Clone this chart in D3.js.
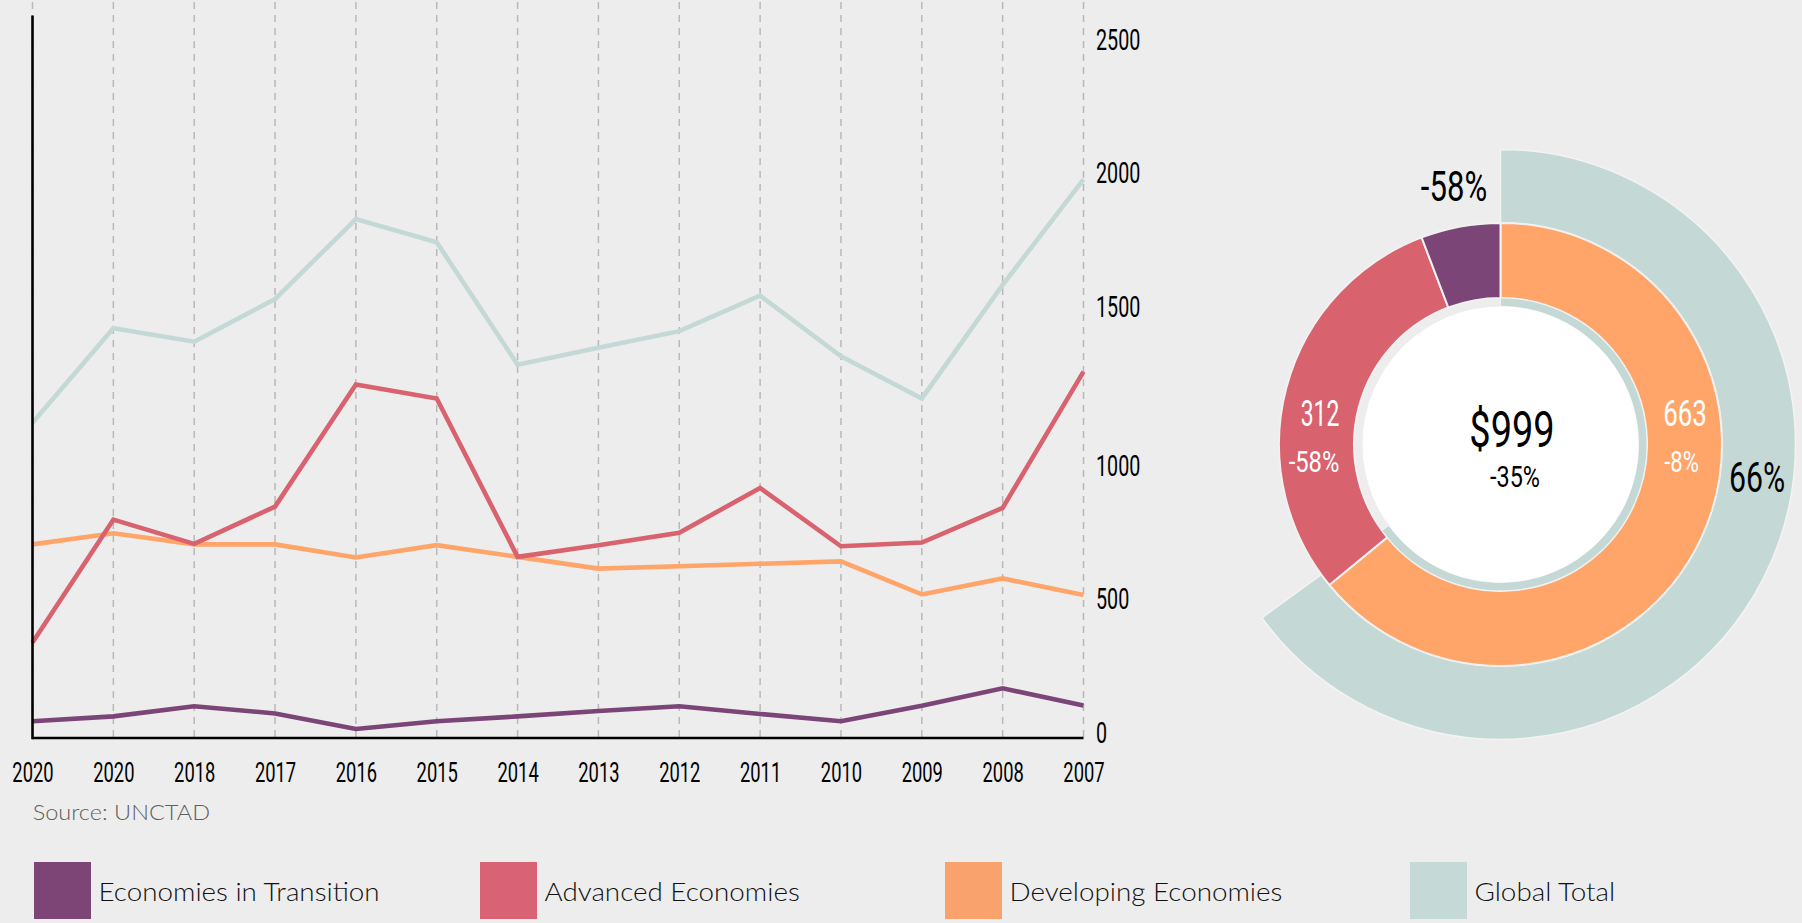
<!DOCTYPE html>
<html>
<head>
<meta charset="utf-8">
<script src="https://cdn.jsdelivr.net/npm/d3@7"></script>
<style>
  html, body { margin: 0; padding: 0; background: #ededed; }
  svg { display: block; }
</style>
</head>
<body>
<svg id="chart" width="1802" height="923"></svg>
<script>
// ---- data ----
const years = ["2020", "2020", "2018", "2017", "2016", "2015", "2014", "2013", "2012", "2011", "2010", "2009", "2008", "2007"];
const globalTotal = [1153, 1449, 1407, 1548, 1847, 1760, 1335, 1388, 1440, 1561, 1361, 1229, 1601, 1995];
const advanced    = [358, 819, 728, 868, 1273, 1229, 679, 723, 770, 938, 719, 733, 863, 1313];
const developing  = [726, 768, 726, 726, 677, 723, 679, 635, 644, 653, 662, 538, 598, 536];
const transition  = [63, 81, 119, 92, 34, 63, 81, 101, 119, 90, 63, 121, 186, 122];
const yTicks = [0, 500, 1000, 1500, 2000, 2500];

const seriesNames = ["Economies in Transition", "Advanced Economies", "Developing Economies", "Global Total"];

// latest-year breakdown shown in the ring
const ringNames   = ["Developing Economies", "Advanced Economies", "Economies in Transition"];
const ringValues  = [663, 312, 60];
const ringChanges = ["-8%", "-58%", "-58%"];
const totalValue = 999;
const totalChange = -35;      // percent change of the global total
const globalShareLabel = "66%";
const sourceNote = "Source: UNCTAD";

// ---- styles ----
const colors = {
  "Economies in Transition": "#7c4578",
  "Advanced Economies": "#d9626f",
  "Developing Economies": "#ffa56a",
  "Global Total": "#c4d9d5"
};
const legendColors = {
  "Economies in Transition": "#7d4476",
  "Advanced Economies": "#d96375",
  "Developing Economies": "#f9a26d",
  "Global Total": "#c5d9d6"
};
const numFont = "Roboto, 'Liberation Sans', sans-serif";
const textFont = "Lato, 'Open Sans', sans-serif";

const svg = d3.select("#chart");
svg.append("rect").attr("width", 1802).attr("height", 923).attr("fill", "#ededed");

// ---- line chart ----
const plotLeft = 32.5, plotRight = 1083.5, plotBottom = 738, plotTop = 15.5;

const x = d3.scalePoint().domain(d3.range(years.length)).range([plotLeft, plotRight]);
// the value axis is stepped the way its labels are spaced
const y = d3.scaleLinear().domain(yTicks).range([738, 604.5, 471.5, 312, 178, 45]);

// dashed year guides
svg.append("g")
  .selectAll("line")
  .data(d3.range(years.length))
  .join("line")
  .attr("x1", d => x(d)).attr("x2", d => x(d))
  .attr("y1", 2).attr("y2", plotBottom)
  .attr("stroke", "#b9b9b9")
  .attr("stroke-width", 1.5)
  .attr("stroke-dasharray", "7,6");

const line = d3.line().x((d, i) => x(i)).y(d => y(d));

const series = [
  { name: "Developing Economies", values: developing },
  { name: "Advanced Economies", values: advanced },
  { name: "Economies in Transition", values: transition },
  { name: "Global Total", values: globalTotal }
];

svg.append("g")
  .selectAll("path")
  .data(series)
  .join("path")
  .attr("d", d => line(d.values))
  .attr("fill", "none")
  .attr("stroke", d => colors[d.name])
  .attr("stroke-width", 4.6)
  .attr("stroke-linejoin", "miter");

// axis lines
svg.append("line").attr("x1", plotLeft).attr("x2", plotLeft).attr("y1", plotTop).attr("y2", plotBottom + 1.2)
  .attr("stroke", "#000").attr("stroke-width", 2.6);
svg.append("line").attr("x1", plotLeft).attr("x2", plotRight).attr("y1", plotBottom).attr("y2", plotBottom)
  .attr("stroke", "#000").attr("stroke-width", 2.4);

// x axis labels
const xAxis = svg.append("g")
  .attr("transform", `translate(0,${plotBottom})`)
  .call(d3.axisBottom(x).tickSize(0).tickFormat(i => years[i]));
xAxis.select(".domain").remove();
xAxis.selectAll("text")
  .attr("y", 44.5).attr("dy", null)
  .attr("transform", "scale(0.68,1)")
  .attr("font-family", numFont).attr("font-size", 27).attr("fill", "#000");

// y axis labels on the right
const yAxis = svg.append("g")
  .attr("transform", "translate(1096,-5)")
  .call(d3.axisRight(y).tickValues(yTicks).tickSize(0).tickPadding(0).tickFormat(d3.format("d")));
yAxis.select(".domain").remove();
yAxis.selectAll("text")
  .attr("transform", "scale(0.68,1)")
  .attr("font-family", numFont).attr("font-size", 29).attr("fill", "#000");

// source note
svg.append("text")
  .attr("transform", "translate(32.7,820) scale(1.07,1)")
  .attr("font-family", textFont).attr("font-size", 22).attr("font-weight", 300)
  .attr("fill", "#5f5f5f")
  .text(sourceNote);

// ---- legend ----
const legendX = [34, 480, 945, 1410];
const legend = svg.append("g").selectAll("g")
  .data(seriesNames)
  .join("g")
  .attr("transform", (d, i) => `translate(${legendX[i]},862)`);
legend.append("rect")
  .attr("width", 57).attr("height", 57)
  .attr("fill", d => legendColors[d]);
legend.append("text")
  .attr("transform", "translate(64.5,38.7) scale(1.07,1)")
  .attr("font-family", textFont).attr("font-size", 26).attr("font-weight", 300)
  .attr("fill", "#111")
  .text(d => d);

// ---- ring chart ----
const cx = 1500.5, cy = 444.4;
const ring = svg.append("g").attr("transform", `translate(${cx},${cy})`);
const share = (100 + totalChange) / 100;

// outer global band
ring.append("path")
  .attr("d", d3.arc().innerRadius(221.5).outerRadius(295).startAngle(0).endAngle(share * 2 * Math.PI)())
  .attr("fill", colors["Global Total"])
  .attr("stroke", "#f3f3f3").attr("stroke-width", 1.5);

// regional breakdown
const pie = d3.pie().sort(null).value(d => d)(ringValues);
const sliceArc = d3.arc().innerRadius(146.5).outerRadius(221.5);
ring.append("g").selectAll("path")
  .data(pie)
  .join("path")
  .attr("d", sliceArc)
  .attr("fill", (d, i) => colors[ringNames[i]])
  .attr("stroke", "#f1f1f1").attr("stroke-width", 2);

// thin inner global band and centre disc
ring.append("path")
  .attr("d", d3.arc().innerRadius(138).outerRadius(146.5).startAngle(0).endAngle(share * 2 * Math.PI)())
  .attr("fill", colors["Global Total"])
  .attr("stroke", "#f3f3f3").attr("stroke-width", 1);
ring.append("circle").attr("r", 138).attr("fill", "#fff");

function ringText(dx, dy, str, size, fill, sx) {
  ring.append("text")
    .attr("transform", `translate(${dx},${dy}) scale(${sx},1)`)
    .attr("text-anchor", "middle")
    .attr("font-family", numFont).attr("font-size", size)
    .attr("fill", fill)
    .text(str);
}

ringText(11.5, 2.6, "$" + totalValue, 50, "#000", 0.76);
ringText(14.5, 42.6, (totalChange > 0 ? "+" : "") + totalChange + "%", 30, "#000", 0.78);

ringText(184.5, -18.5, ringValues[0], 37, "#fff", 0.7);
ringText(181, 27.5, ringChanges[0], 29, "#fff", 0.76);
ringText(-180.5, -18.5, ringValues[1], 37, "#fff", 0.62);
ringText(-186.5, 27.5, ringChanges[1], 29, "#fff", 0.82);
ringText(-46.5, -243.2, ringChanges[2], 42, "#000", 0.74);
ringText(256.5, 47.4, globalShareLabel, 42, "#000", 0.72);
</script>
</body>
</html>
